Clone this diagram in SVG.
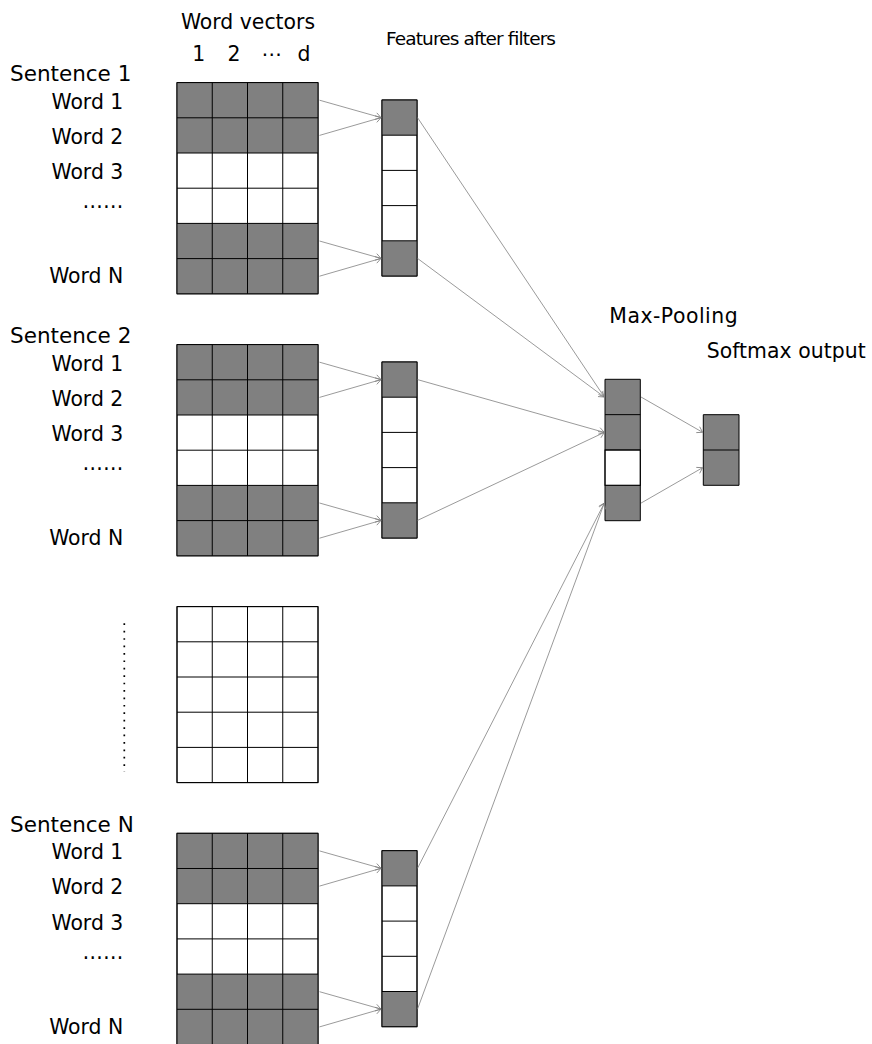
<svg xmlns="http://www.w3.org/2000/svg" xmlns:xlink="http://www.w3.org/1999/xlink" width="872" height="1044" viewBox="0 0 872 1044">
<style>
text{font-family:"DejaVu Sans","Liberation Sans",sans-serif;fill:#000;}
.lbl{font-size:20.4px;}
.w{font-size:20.4px;text-anchor:end;}
.sent{font-size:21.5px;}
.g{fill:#808080;stroke:none;}
.wb{fill:#fff;stroke:#000;stroke-width:1;}
.grid{fill:none;stroke:#000;stroke-width:1;}
.con line{stroke:#808080;stroke-width:0.8;fill:none;marker-end:url(#ah);}
</style>
<defs>
<marker id="ah" viewBox="-7 -5 8 10" markerWidth="8" markerHeight="10" refX="0" refY="0" orient="auto" markerUnits="userSpaceOnUse">
<path d="M-5,-3.2 L0,0 L-5,3.2" fill="none" stroke="#808080" stroke-width="0.8" stroke-linecap="round"/>
</marker>
<g id="mat">
<rect class="wb" x="0" y="0" width="141" height="211.2"/>
<rect class="g" x="0" y="0" width="141" height="70.4"/>
<rect class="g" x="0" y="140.8" width="141" height="70.4"/>
<path class="grid" d="M0,0H141V211.2H0Z M35.25,0V211.2 M70.5,0V211.2 M105.75,0V211.2 M0,35.2H141 M0,70.4H141 M0,105.6H141 M0,140.8H141 M0,176H141"/>
</g>
<g id="feat">
<rect class="wb" x="0" y="0" width="35" height="176"/>
<rect class="g" x="0" y="0" width="35" height="35.2"/>
<rect class="g" x="0" y="140.8" width="35" height="35.2"/>
<path class="grid" d="M0,0H35V176H0Z M0,35.2H35 M0,70.4H35 M0,105.6H35 M0,140.8H35"/>
</g>
</defs>
<rect x="0" y="0" width="872" height="1044" fill="#fff"/>

<g id="header">
<text class="lbl" x="248" y="28.5" text-anchor="middle">Word vectors</text>
<text class="lbl" x="198.7" y="60.7" text-anchor="middle">1</text>
<text class="lbl" x="234" y="60.7" text-anchor="middle">2</text>
<text class="lbl" x="272" y="60.7" text-anchor="middle">⋯</text>
<text class="lbl" x="304" y="60.7" text-anchor="middle">d</text>
<text x="386" y="45" font-size="18.5" textLength="170" lengthAdjust="spacing">Features after filters</text>
<text class="lbl" x="609.3" y="323.3" textLength="128.4">Max-Pooling</text>
<text class="lbl" x="706.7" y="358.3" textLength="159">Softmax output</text>
</g>

<g id="sentence1">
<text class="sent" x="10" y="81">Sentence 1</text>
<text class="w" x="123.3" y="108.5">Word 1</text>
<text class="w" x="123.3" y="143.7">Word 2</text>
<text class="w" x="123.3" y="178.9">Word 3</text>
<text class="w" x="123.3" y="208">……</text>
<text class="w" x="123.3" y="283.3">Word N</text>
<use xlink:href="#mat" href="#mat" x="177" y="82.6"/>
</g>
<g id="features1"><use xlink:href="#feat" href="#feat" x="382" y="100"/></g>

<g id="sentence2">
<text class="sent" x="10" y="343">Sentence 2</text>
<text class="w" x="123.3" y="370.5">Word 1</text>
<text class="w" x="123.3" y="405.7">Word 2</text>
<text class="w" x="123.3" y="440.9">Word 3</text>
<text class="w" x="123.3" y="470">……</text>
<text class="w" x="123.3" y="545.3">Word N</text>
<use xlink:href="#mat" href="#mat" x="177" y="344.6"/>
</g>
<g id="features2"><use xlink:href="#feat" href="#feat" x="382" y="362"/></g>

<g id="ellipsis-matrix">
<line x1="124.3" y1="623.3" x2="124.3" y2="772" stroke="#000" stroke-width="1.7" stroke-dasharray="1.7 5.72"/>
<rect class="wb" x="177" y="606.6" width="141" height="176"/>
<path class="grid" d="M177,606.6H318V782.6H177Z M212.25,606.6V782.6 M247.5,606.6V782.6 M282.75,606.6V782.6 M177,641.8H318 M177,677H318 M177,712.2H318 M177,747.4H318"/>
</g>

<g id="sentenceN">
<text class="sent" x="10" y="831.7">Sentence N</text>
<text class="w" x="123.3" y="859.2">Word 1</text>
<text class="w" x="123.3" y="894.4">Word 2</text>
<text class="w" x="123.3" y="929.6">Word 3</text>
<text class="w" x="123.3" y="958.7">……</text>
<text class="w" x="123.3" y="1034">Word N</text>
<use xlink:href="#mat" href="#mat" x="177" y="833.3"/>
</g>
<g id="featuresN"><use xlink:href="#feat" href="#feat" x="382" y="850.7"/></g>

<g id="maxpool">
<rect class="g" x="605" y="379.3" width="35.3" height="70.7"/>
<rect class="wb" x="605" y="450" width="35.3" height="35.35"/>
<rect class="g" x="605" y="485.35" width="35.3" height="35.35"/>
<path class="grid" d="M605,379.3H640.3V520.7H605Z M605,414.65H640.3 M605,450H640.3 M605,485.35H640.3"/>
</g>

<g id="softmax">
<rect class="g" x="703.3" y="414.7" width="35.7" height="70.6"/>
<path class="grid" d="M703.3,414.7H739V485.3H703.3Z M703.3,450H739"/>
</g>

<g id="connectors" class="con">
<line x1="319.5" y1="100.2" x2="381" y2="117.6"/>
<line x1="319.5" y1="135.4" x2="381" y2="117.6"/>
<line x1="319.5" y1="241" x2="381" y2="258.4"/>
<line x1="319.5" y1="276.2" x2="381" y2="258.4"/>
<line x1="319.5" y1="362.2" x2="381" y2="379.6"/>
<line x1="319.5" y1="397.4" x2="381" y2="379.6"/>
<line x1="319.5" y1="503" x2="381" y2="520.4"/>
<line x1="319.5" y1="538.2" x2="381" y2="520.4"/>
<line x1="319.5" y1="850.9" x2="381" y2="868.3"/>
<line x1="319.5" y1="886.1" x2="381" y2="868.3"/>
<line x1="319.5" y1="991.7" x2="381" y2="1009.1"/>
<line x1="319.5" y1="1026.9" x2="381" y2="1009.1"/>
<line x1="417.5" y1="117.6" x2="604.3" y2="397"/>
<line x1="417.5" y1="258.4" x2="604.3" y2="397"/>
<line x1="417.5" y1="379.6" x2="604.3" y2="432.4"/>
<line x1="417.5" y1="520.4" x2="604.3" y2="432.4"/>
<line x1="417.5" y1="868.3" x2="604.3" y2="503.1"/>
<line x1="417.5" y1="1009.1" x2="604.3" y2="503.1"/>
<line x1="641" y1="397" x2="702.6" y2="432.3"/>
<line x1="641" y1="503.1" x2="702.6" y2="467.7"/>
</g>
</svg>
